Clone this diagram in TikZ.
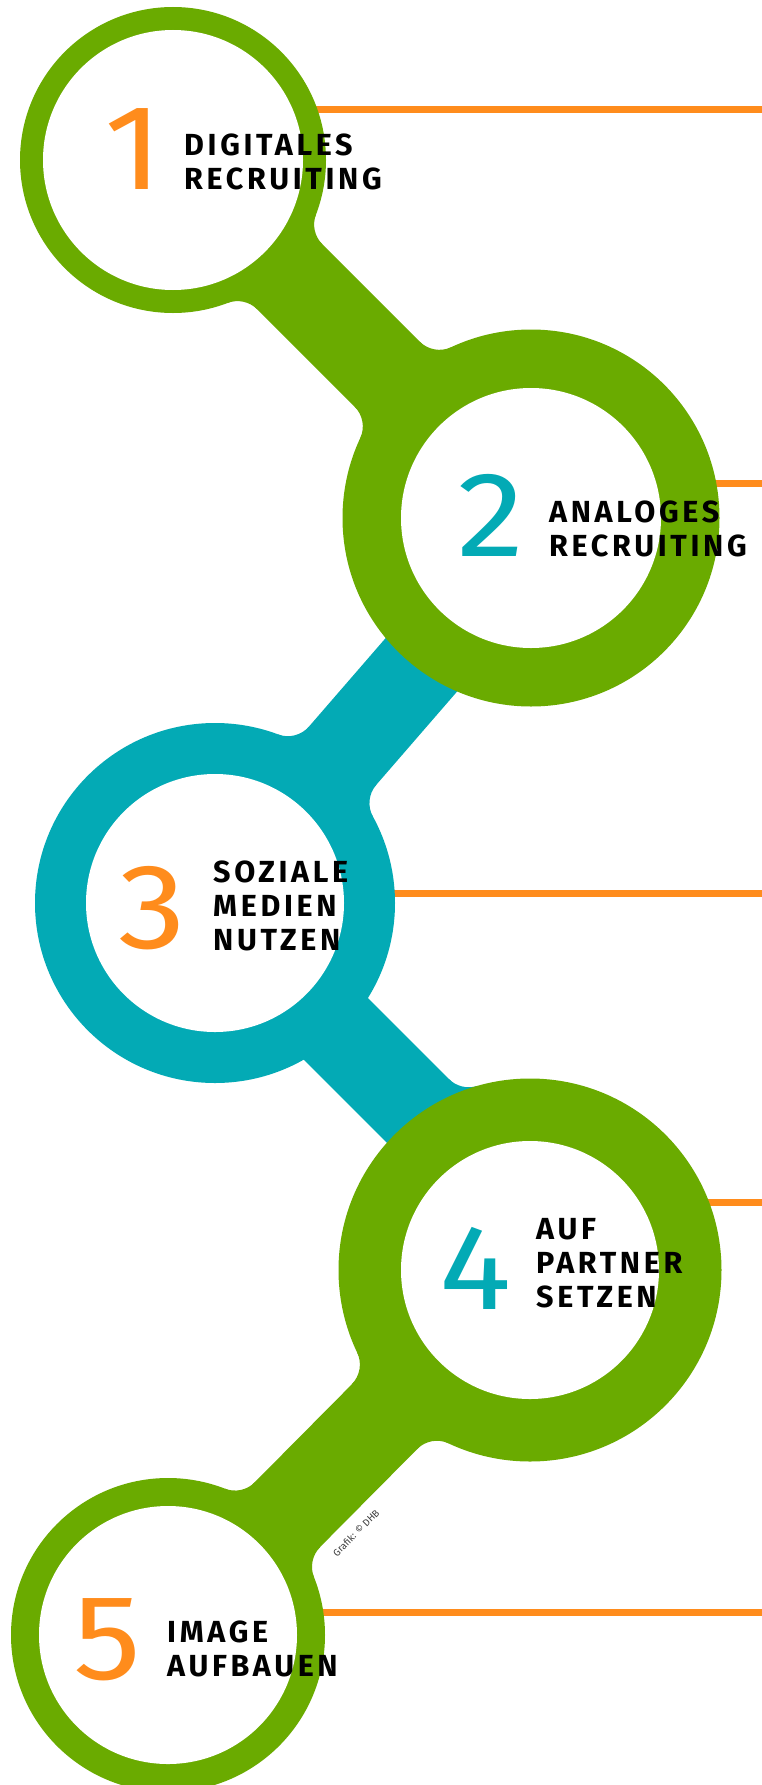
\documentclass[tikz,border=0pt]{standalone}
\usepackage{fontspec}
\setmainfont{Fira Sans}
\newfontfamily\labfont{Fira Sans}[LetterSpace=12]
\newfontfamily\digitfont{Fira Sans}
\usetikzlibrary{calc}
\definecolor{ringgreen}{RGB}{106,171,0}
\definecolor{ringteal}{RGB}{3,170,181}
\definecolor{lineorange}{RGB}{255,140,28}
\definecolor{creditgray}{RGB}{60,60,60}
% #1 centre, #2 outer radius, #3 band angle, #4 band offset, #5 half width, #6 side, #7 fillet radius, #8 colour
\newcommand\ringfillet[8]{%
  \pgfmathsetmacro\fD{(#4)+(#6)*(#5)}%
  \pgfmathsetmacro\fq{(\fD)+(#6)*(#7)}%
  \pgfmathsetmacro\fa{sqrt((#2)+(#7)-(\fq))*sqrt((#2)+(#7)+(\fq))}%
  \pgfmathsetmacro\fg{atan((\fq)/(\fa))}%
  \pgfmathsetmacro\fts{(#3)+(\fg)+180}%
  \pgfmathsetmacro\fte{(\fts)+90*(#6)-(\fg)}%
  \pgfmathsetmacro\fang{(#3)+(\fg)}%
  \pgfmathsetmacro\fperp{(#3)+90}%
  \fill[#8] (#1) -- ($(#1)+(\fang:#2)$) arc[start angle=\fts, end angle=\fte, radius=#7]
     -- ($(#1)+(#3:\fa)+(\fperp:#4)$) -- cycle;
}
\tikzset{
  bandgreen/.style={draw=ringgreen, line width=92pt},
  bandteal/.style={draw=ringteal, line width=89pt},
  orangeline/.style={draw=lineorange, line width=7pt},
  disc/.style={circle, inner sep=0pt, minimum size=#1},
  digit/.style={anchor=base, inner sep=0pt, xscale=1.12, font=\digitfont\fontsize{121}{121}\selectfont},
  label/.style={anchor=base west, inner sep=0pt, text=black, font=\labfont\bfseries\fontsize{30.5}{34}\selectfont},
}
\begin{document}
\begin{tikzpicture}[x=1pt, y=-1pt]
\useasboundingbox (0,0) rectangle (762,1785);
\clip (0,0) rectangle (762,1785);
\fill[white] (0,0) rectangle (762,1785);
% centres
\coordinate (c1) at (173,160);
\coordinate (c2) at (531,518);
\coordinate (c3) at (215,903);
\coordinate (c4) at (530,1270);
\coordinate (c5) at (168,1635);
\coordinate (b23) at (529.3,540.2);
\coordinate (b34s) at (212.5,905.5);
\coordinate (b34e) at (553.5,1246.5);
% orange lines
\coordinate (o1) at (300,109.5);  \coordinate (e1) at (762,109.5);
\coordinate (o2) at (690,483.5);  \coordinate (e2) at (762,483.5);
\coordinate (o3) at (370,893);    \coordinate (e3) at (762,893);
\coordinate (o4) at (680,1202);   \coordinate (e4) at (762,1202);
\coordinate (o5) at (310,1612);   \coordinate (e5) at (762,1612);
\draw[orangeline] (o1) -- (e1);
\draw[orangeline] (o2) -- (e2);
\draw[orangeline] (o3) -- (e3);
\draw[orangeline] (o4) -- (e4);
\draw[orangeline] (o5) -- (e5);
% bands
\draw[bandgreen] (c1) -- (c2);
\draw[bandteal] (c3) -- (b23);
\draw[bandteal] (b34s) -- (b34e);
\draw[bandgreen] (c4) -- (c5);
% fillets
\ringfillet{c1}{153}{45}{0}{46}{1}{28}{ringgreen}
\ringfillet{c1}{153}{45}{0}{46}{-1}{28}{ringgreen}
\ringfillet{c2}{188.5}{225}{0}{46}{1}{28}{ringgreen}
\ringfillet{c2}{188.5}{225}{0}{46}{-1}{28}{ringgreen}
\ringfillet{c3}{180}{310.9}{0}{44.5}{1}{28}{ringteal}
\ringfillet{c3}{180}{310.9}{0}{44.5}{-1}{28}{ringteal}
\ringfillet{c4}{191.5}{225}{33.2}{44.5}{1}{28}{ringteal}
\ringfillet{c4}{191.5}{134.8}{0}{46}{1}{28}{ringgreen}
\ringfillet{c4}{191.5}{134.8}{0}{46}{-1}{28}{ringgreen}
\ringfillet{c5}{157}{314.8}{0}{46}{1}{28}{ringgreen}
\ringfillet{c5}{157}{314.8}{0}{46}{-1}{28}{ringgreen}
% rings
\node[disc=306pt, fill=ringgreen] (r1) at (c1) {};
\node[disc=377pt, fill=ringgreen] (r2) at (c2) {};
\node[disc=360pt, fill=ringteal]  (r3) at (c3) {};
\node[disc=383pt, fill=ringgreen] (r4) at (c4) {};
\node[disc=314pt, fill=ringgreen] (r5) at (c5) {};
\node[disc=260pt, fill=white] (i1) at (c1) {};
\node[disc=260pt, fill=white] (i2) at (c2) {};
\node[disc=258pt, fill=white] (i3) at (c3) {};
\node[disc=258pt, fill=white] (i4) at (c4) {};
\node[disc=258pt, fill=white] (i5) at (c5) {};
% digits
\node[digit, text=lineorange] (d1) at (133.5,189) {1};
\node[digit, text=ringteal]   (d2) at (491.5,556) {2};
\node[digit, text=lineorange] (d3) at (152.5,948) {3};
\node[digit, text=ringteal]   (d4) at (476,1309) {4};
\node[digit, text=lineorange] (d5) at (107.5,1679) {5};
% labels
\node[label] (l1) at (184,155) {\begin{tabular}[t]{@{}l@{}}DIGITALES\\RECRUITING\end{tabular}};
\node[label] (l2) at (549,522) {\begin{tabular}[t]{@{}l@{}}ANALOGES\\RECRUITING\end{tabular}};
\node[label] (l3) at (213,882) {\begin{tabular}[t]{@{}l@{}}SOZIALE\\MEDIEN\\NUTZEN\end{tabular}};
\node[label] (l4) at (536,1239) {\begin{tabular}[t]{@{}l@{}}AUF\\PARTNER\\SETZEN\end{tabular}};
\node[label] (l5) at (167,1642) {\begin{tabular}[t]{@{}l@{}}IMAGE\\AUFBAUEN\end{tabular}};
% credit
\node[rotate=45, inner sep=0pt, text=creditgray, font=\fontsize{9.8}{11}\selectfont] (credit) at (356,1533) {Grafik: © DHB};
\end{tikzpicture}
\end{document}
